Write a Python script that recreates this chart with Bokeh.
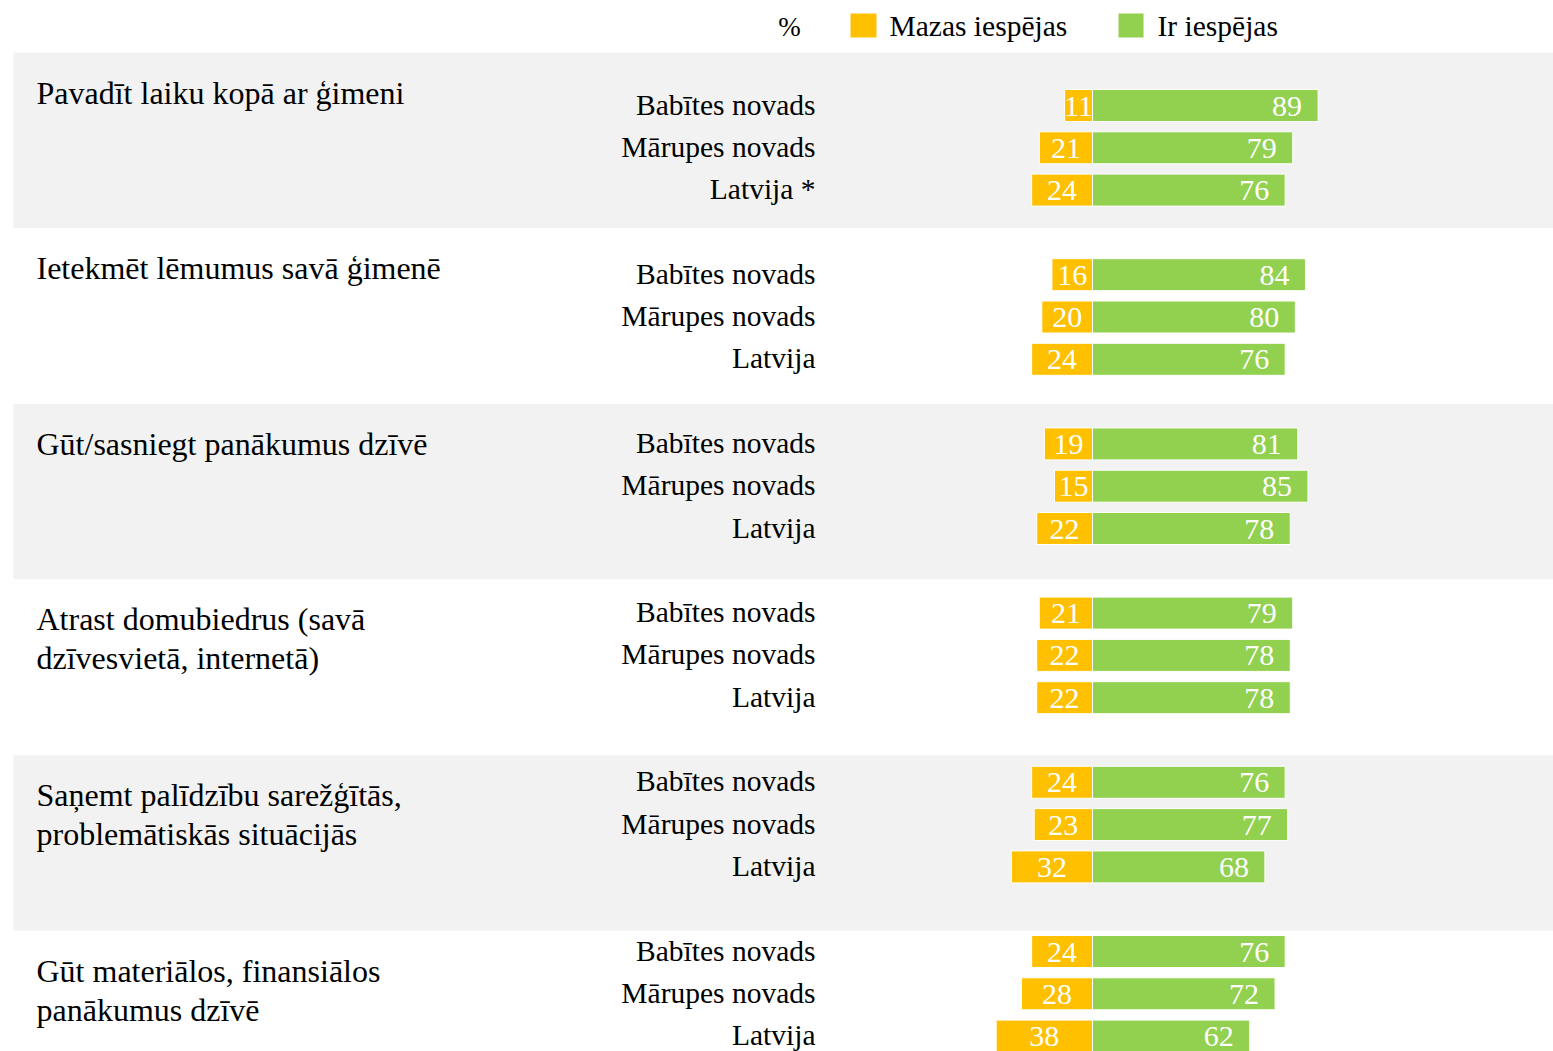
from bokeh.plotting import figure
from bokeh.models import Range1d, ColumnDataSource
from bokeh.embed import file_html
from bokeh.resources import INLINE
from bokeh.core.properties import value

# ---- data ----
groups = [
    ["Pavadīt laiku kopā ar ģimeni"],
    ["Ietekmēt lēmumus savā ģimenē"],
    ["Gūt/sasniegt panākumus dzīvē"],
    ["Atrast domubiedrus (savā", "dzīvesvietā, internetā)"],
    ["Saņemt palīdzību sarežģītās,", "problemātiskās situācijās"],
    ["Gūt materiālos, finansiālos", "panākumus dzīvē"],
]
regions = [
    ["Babītes novads", "Mārupes novads", "Latvija *"],
    ["Babītes novads", "Mārupes novads", "Latvija"],
    ["Babītes novads", "Mārupes novads", "Latvija"],
    ["Babītes novads", "Mārupes novads", "Latvija"],
    ["Babītes novads", "Mārupes novads", "Latvija"],
    ["Babītes novads", "Mārupes novads", "Latvija"],
]
low_values = [
    [11, 21, 24],
    [16, 20, 24],
    [19, 15, 22],
    [21, 22, 22],
    [24, 23, 32],
    [24, 28, 38],
]
high_values = [
    [89, 79, 76],
    [84, 80, 76],
    [81, 85, 78],
    [79, 78, 78],
    [76, 77, 68],
    [76, 72, 62],
]
legend_labels = ["Mazas iespējas", "Ir iespējas"]
unit_label = "%"

ORANGE = "#FFC000"
GREEN = "#92D050"
BAND = "#F2F2F2"
TXT = "#000000"
FONT = value("Liberation Serif")

# ---- layout helpers (screen px -> data units) ----
W, H = 1553, 1051
CENTER_PX = 1092.0   # screen x of value 0
PX_PER_UNIT = 2.535
ROW_PX = 42.3        # row pitch
ROW0_PX = 105.0      # screen y of first row


def ux(px):
    return (px - CENTER_PX) / PX_PER_UNIT


def uy(py):
    return (py - ROW0_PX) / ROW_PX


x_start, x_end = ux(0), ux(W)
y_top, y_bottom = uy(0), uy(H)

p = figure(width=W, height=H, output_backend="svg", toolbar_location=None,
           x_range=Range1d(x_start, x_end), y_range=Range1d(y_bottom, y_top),
           min_border=0, outline_line_color=None, background_fill_color="white",
           border_fill_color="white")
p.axis.visible = False
p.grid.visible = False

# bands
BAND_TOP0 = 52.0
BAND_H = 175.6
bl, br, bt, bb = [], [], [], []
for g in range(len(groups)):
    if g % 2 == 0:
        bl.append(ux(13)); br.append(x_end + 5)
        bt.append(uy(BAND_TOP0 + g * BAND_H)); bb.append(uy(BAND_TOP0 + (g + 1) * BAND_H))
p.quad(left=bl, right=br, top=bt, bottom=bb, fill_color=BAND, line_color=None)

# bars
ys, lows, highs, labs = [], [], [], []
for g in range(len(groups)):
    for r in range(3):
        ys.append(g * 4 + r)
        lows.append(low_values[g][r])
        highs.append(high_values[g][r])
        labs.append(regions[g][r])

src = ColumnDataSource(dict(
    y=ys, low=[-v for v in lows], high=highs, zero=[0] * len(ys),
    low_txt=[str(v) for v in lows], high_txt=[str(v) for v in highs],
    low_mid=[-v / 2 for v in lows], high_pos=[v - 16 / PX_PER_UNIT for v in highs],
    lab=labs, lab_x=[ux(815)] * len(ys),
    ty=[y + 0.5 / ROW_PX for y in ys],
    ly=[y - 1.0 / ROW_PX for y in ys],
))
bar_h = 32 / ROW_PX
p.hbar(y="y", left="low", right="zero", height=bar_h, source=src,
       fill_color=ORANGE, line_color="white", line_width=1)
p.hbar(y="y", left="zero", right="high", height=bar_h, source=src,
       fill_color=GREEN, line_color="white", line_width=1)

p.text(x="low_mid", y="ty", text="low_txt", source=src, text_color="white",
       text_font=FONT, text_font_size="30px", text_align="center", text_baseline="middle")
p.text(x="high_pos", y="ty", text="high_txt", source=src, text_color="white",
       text_font=FONT, text_font_size="30px", text_align="right", text_baseline="middle")
p.text(x="lab_x", y="ly", text="lab", source=src, text_color=TXT,
       text_font=FONT, text_font_size="29.5px", text_align="right", text_baseline="middle")

# group labels
gx, gy, gt = [], [], []
for g, lines in enumerate(groups):
    for i, line in enumerate(lines):
        gx.append(ux(36))
        gy.append(uy(BAND_TOP0 + g * BAND_H + 40 + i * 39))
        gt.append(line)
p.text(x=gx, y=gy, text=gt, text_color=TXT, text_font=FONT,
       text_font_size="32px", text_align="left", text_baseline="middle")

# legend
p.text(x=[ux(789)], y=[uy(26)], text=[unit_label], text_color=TXT, text_font=FONT,
       text_font_size="27px", text_align="center", text_baseline="middle")
p.quad(left=[ux(850), ux(1118)], right=[ux(876), ux(1143)],
       top=[uy(13), uy(13)], bottom=[uy(37), uy(37)],
       fill_color=[ORANGE, GREEN], line_color=None)
p.text(x=[ux(889), ux(1157)], y=[uy(25.5), uy(25.5)], text=legend_labels,
       text_color=TXT, text_font=FONT, text_font_size="29.5px",
       text_align="left", text_baseline="middle")

open("out.html", "w").write(file_html(p, INLINE))
